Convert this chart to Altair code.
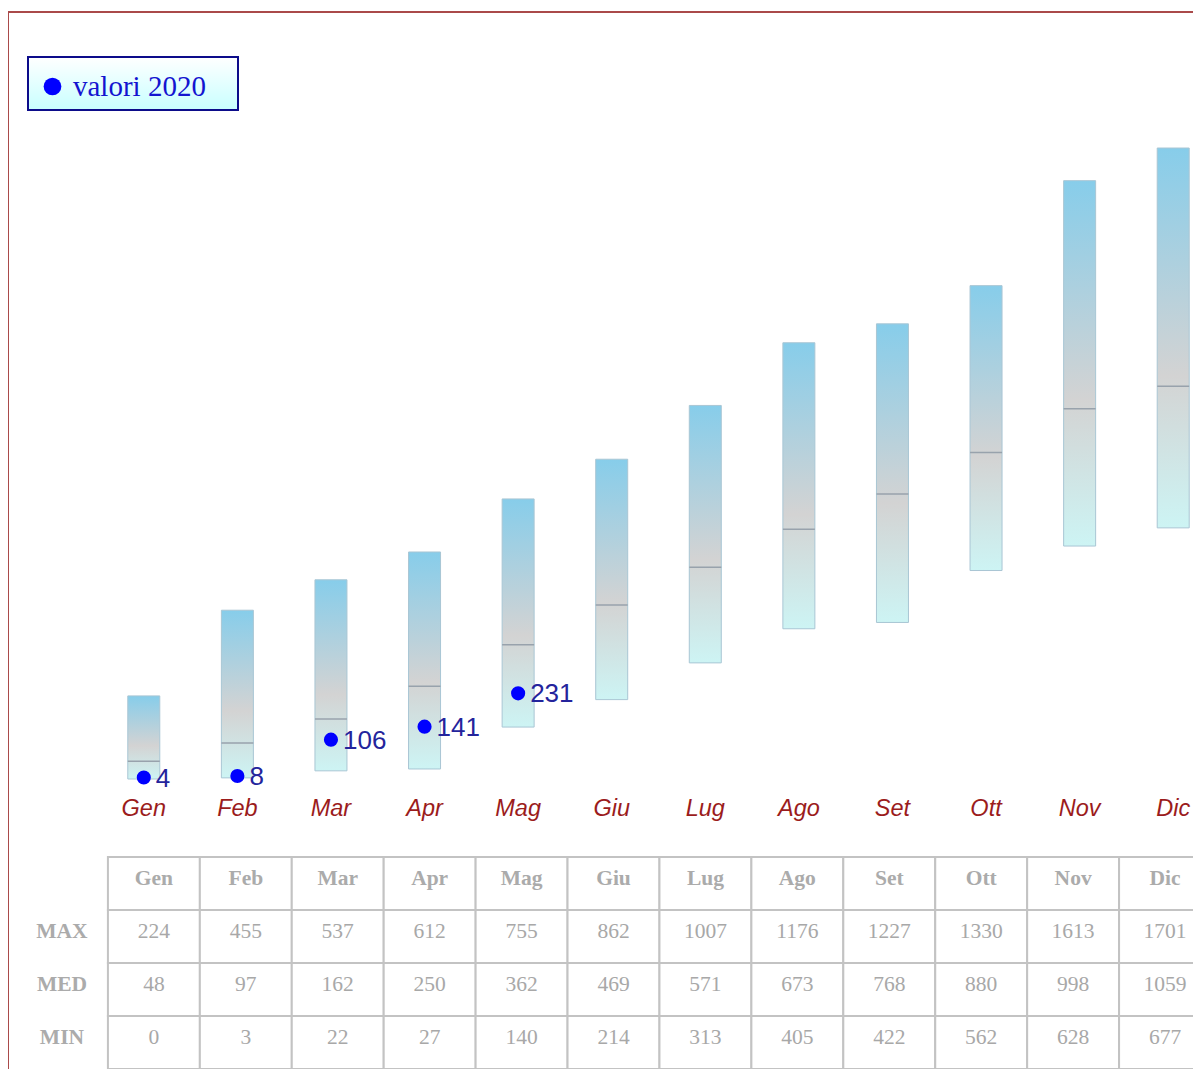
import altair as alt
import pandas as pd

# ---------------- data ----------------
months = ["Gen", "Feb", "Mar", "Apr", "Mag", "Giu", "Lug", "Ago", "Set", "Ott", "Nov", "Dic"]
max_vals = [224, 455, 537, 612, 755, 862, 1007, 1176, 1227, 1330, 1613, 1701]
med_vals = [48, 97, 162, 250, 362, 469, 571, 673, 768, 880, 998, 1059]
min_vals = [0, 3, 22, 27, 140, 214, 313, 405, 422, 562, 628, 677]
vals_2020 = [4, 8, 106, 141, 231]
row_labels = ["MAX", "MED", "MIN"]
series_name = "valori 2020"

bars_df = pd.DataFrame({"mese": months, "max": max_vals, "med": med_vals, "min": min_vals})
pts_df = pd.DataFrame({"mese": months[:len(vals_2020)], "valore": vals_2020,
                       "serie": [series_name] * len(vals_2020)})

cells = []
for i, m in enumerate(months):
    cells.append({"col": m, "row": "hdr", "text": m, "kind": "hdr"})
    for r, vals in zip(row_labels, [max_vals, med_vals, min_vals]):
        cells.append({"col": m, "row": r, "text": str(vals[i]), "kind": "val"})
for r in row_labels:
    cells.append({"col": "_", "row": r, "text": r, "kind": "lab"})
table_df = pd.DataFrame(cells)
one = pd.DataFrame({"k": [0]})

# ---------------- scales ----------------
x_bar = alt.Scale(domain=months, range=[89, 1212], paddingInner=0, paddingOuter=0)
y_val = alt.Scale(domain=[0, 1701], range=[771, 140], nice=False, zero=False)
x_tab = alt.Scale(domain=["_"] + months, range=[8, 1203], paddingInner=0, paddingOuter=0)
y_tab = alt.Scale(domain=["hdr"] + row_labels, range=[849, 1061], paddingInner=0, paddingOuter=0)

X = alt.X("mese:N", scale=x_bar, axis=None)

bar_grad = alt.LinearGradient(
    gradient="linear", x1=0, x2=0, y1=0, y2=1,
    stops=[alt.GradientStop(color="#87cdea", offset=0),
           alt.GradientStop(color="#d3d3d3", offset=0.6),
           alt.GradientStop(color="#cdf4f4", offset=1)])
legend_grad = alt.LinearGradient(
    gradient="linear", x1=0, x2=0, y1=0, y2=1,
    stops=[alt.GradientStop(color="#ffffff", offset=0),
           alt.GradientStop(color="#c8ffff", offset=1)])

# ---------------- layers ----------------
frame = alt.Chart(one).mark_rect(fillOpacity=0, stroke="#aa4a4a", strokeWidth=2).encode(
    x=alt.value(0), x2=alt.value(1500), y=alt.value(4), y2=alt.value(1500))

legend_box = alt.Chart(one).mark_rect(fill=legend_grad, stroke="#0c0c8a", strokeWidth=2).encode(
    x=alt.value(20), x2=alt.value(230), y=alt.value(49), y2=alt.value(102))

bars = alt.Chart(bars_df).mark_bar(width=32, fill=bar_grad, stroke="#a9c6d4", strokeWidth=1).encode(
    x=X, y=alt.Y("min:Q", scale=y_val, axis=None), y2="max:Q")

medians = alt.Chart(bars_df).mark_tick(size=32, thickness=1.5, color="#98a2ac", opacity=1).encode(
    x=X, y=alt.Y("med:Q", scale=y_val, axis=None))

points = alt.Chart(pts_df).mark_point(filled=True, size=200, opacity=1).encode(
    x=X, y=alt.Y("valore:Q", scale=y_val, axis=None),
    color=alt.Color("serie:N", scale=alt.Scale(domain=[series_name], range=["#0000ff"]),
                    legend=alt.Legend(orient="none", legendX=30, legendY=64, title=None,
                                      symbolType="circle", symbolSize=314, symbolStrokeWidth=0,
                                      labelFont="Liberation Serif", labelFontSize=29,
                                      labelColor="#1414d0", labelOffset=6, padding=0,
                                      labelLimit=400)))

point_labels = alt.Chart(pts_df).mark_text(
    align="left", baseline="middle", dx=12, dy=1, fontSize=26, font="Liberation Sans",
    color="#24249c").encode(x=X, y=alt.Y("valore:Q", scale=y_val, axis=None), text="valore:Q")

month_labels = alt.Chart(bars_df).mark_text(
    baseline="middle", fontSize=23.5, font="Liberation Sans", fontStyle="italic",
    color="#9b1c1c").encode(x=X, y=alt.value(801), text="mese:N")

TX = alt.X("col:N", scale=x_tab, axis=None)
TY = alt.Y("row:N", scale=y_tab, axis=None)

table_cells = alt.Chart(table_df).transform_filter("datum.kind != 'lab'").mark_rect(
    fill="white", stroke="#c3c3c3", strokeWidth=2).encode(x=TX, y=TY)

table_bold = alt.Chart(table_df).transform_filter("datum.kind != 'val'").mark_text(
    font="Liberation Serif", fontWeight="bold", fontSize=21.5, color="#ababab", dy=-4.5,
    baseline="middle").encode(x=TX, y=TY, text="text:N")

table_vals = alt.Chart(table_df).transform_filter("datum.kind == 'val'").mark_text(
    font="Liberation Serif", fontSize=21.5, color="#a8a8a8", dy=-4.5,
    baseline="middle").encode(x=TX, y=TY, text="text:N")

chart = alt.layer(
    frame, legend_box, bars, medians, points, point_labels, month_labels,
    table_cells, table_bold, table_vals
).resolve_scale(x="independent", y="independent").properties(
    width=1185, height=1061, autosize=alt.AutoSizeParams(type="none"), padding=0
).configure_view(stroke=None)

chart.save("out.html", embed_options={"renderer": "svg", "actions": False})
